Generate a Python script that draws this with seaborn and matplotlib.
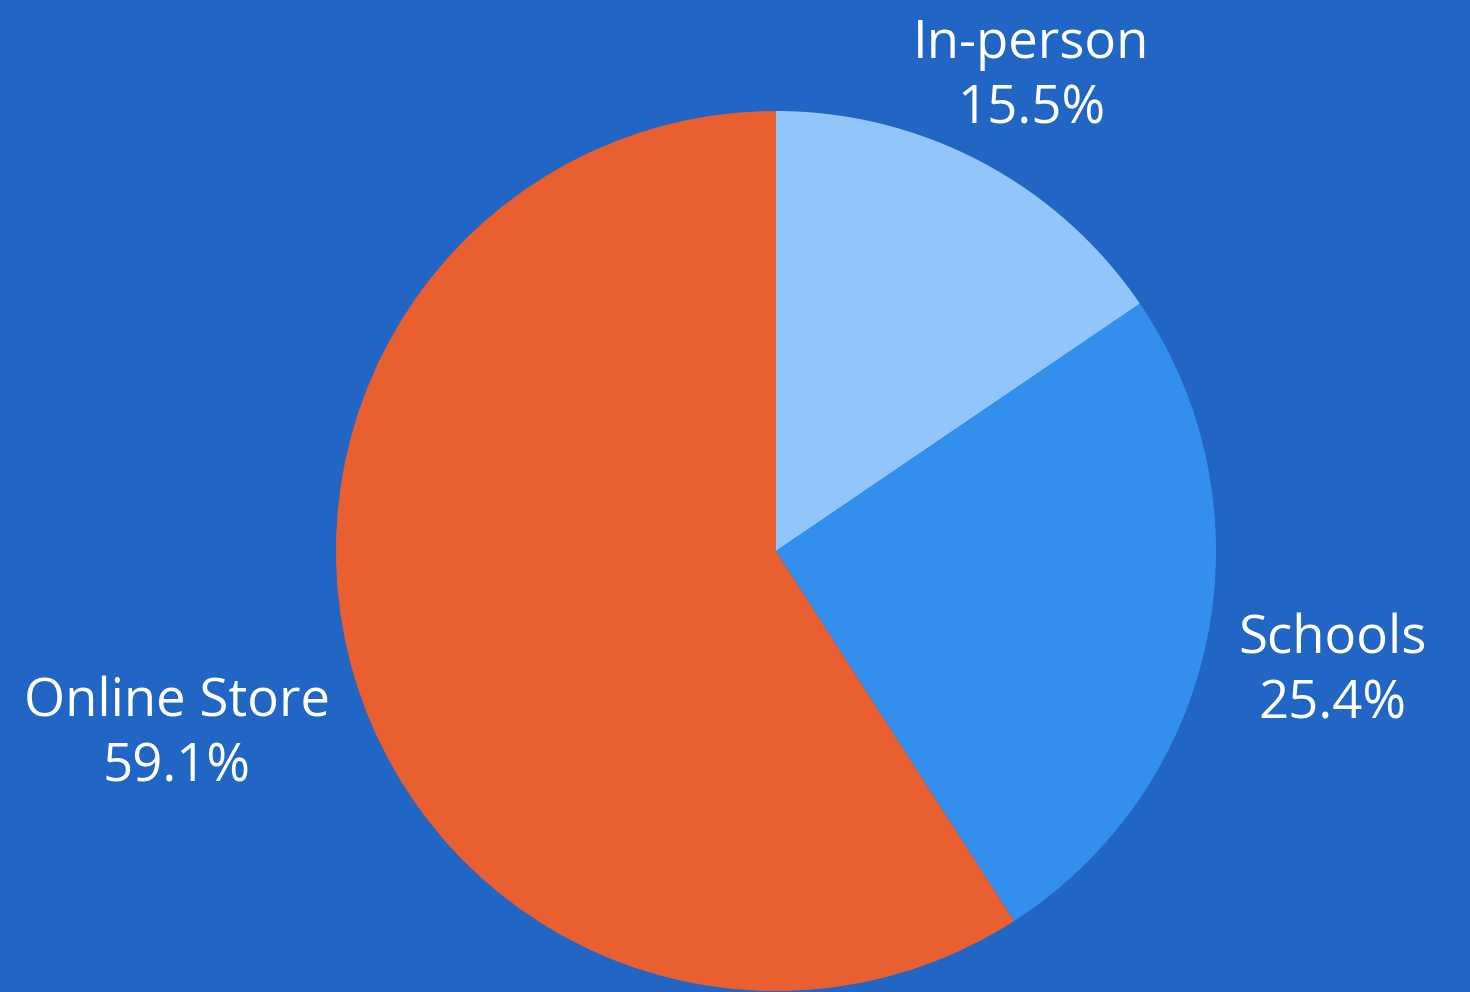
import numpy as np
import matplotlib
matplotlib.use("Agg")
import matplotlib.pyplot as plt
import matplotlib.transforms as mtransforms
import seaborn as sns

categories = ["In-person", "Schools", "Online Store"]
values = [15.5, 25.4, 59.1]
colors = ["#93C5FD", "#338FEE", "#EA5F2F"]
label_dist = [1.24, 1.29, 1.42]
bg = "#2166C4"

sns.set_theme(style="white")
plt.rcParams['font.family'] = ['Open Sans', 'DejaVu Sans']

W, H = 1470, 992
fig = plt.figure(figsize=(W / 100, H / 100), dpi=100, facecolor=bg)
cx, cy, r = 776, 551, 440
ax = fig.add_axes([(cx - r) / W, (H - cy - r) / H, 2 * r / W, 2 * r / H])
ax.set_facecolor(bg)

wedges, _ = ax.pie(values, colors=colors, startangle=90, counterclock=False,
                   radius=1, wedgeprops=dict(linewidth=0))
shift = mtransforms.ScaledTranslation(0, -8 / 100, fig.dpi_scale_trans)
for w, cat, v, d in zip(wedges, categories, values, label_dist):
    ang = np.deg2rad((w.theta1 + w.theta2) / 2)
    ax.text(d * np.cos(ang), d * np.sin(ang), f"{cat}\n{v:.1f}%",
            ha="center", va="center", color="white", fontsize=38,
            linespacing=1.3, clip_on=False, transform=ax.transData + shift)
ax.set_xlim(-1, 1)
ax.set_ylim(-1, 1)
ax.set_aspect("equal")
ax.axis("off")
fig.savefig("out.png", dpi=100, facecolor=bg)
